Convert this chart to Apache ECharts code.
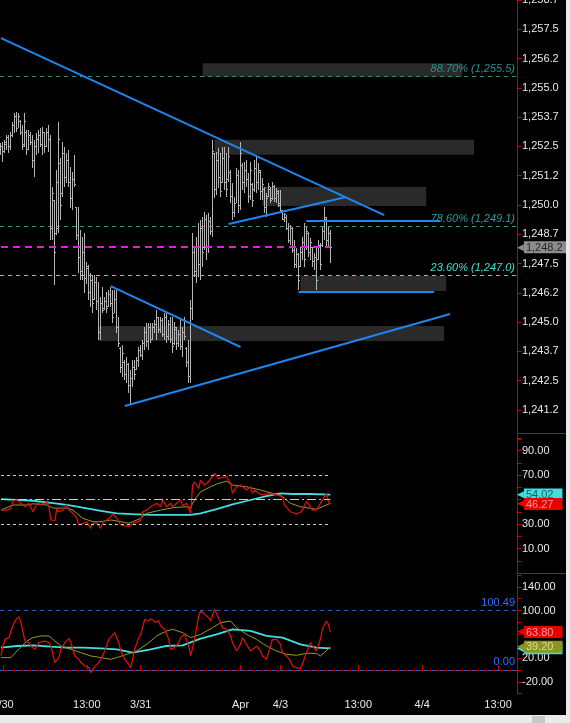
<!DOCTYPE html>
<html><head><meta charset="utf-8">
<script src="https://cdn.jsdelivr.net/npm/echarts/dist/echarts.min.js"></script>
<style>html,body{margin:0;padding:0;background:#000;overflow:hidden}#c{width:570px;height:723px}</style>
</head><body><div id="c"></div><script>
// ---------- data ----------
const slotCount = 259;
const xTickIndex = [1, 43, 70, 120, 140, 179, 211, 249];
const xTickText = ['3/30', '13:00', '3/31', 'Apr', '4/3', '13:00', '4/4', '13:00'];

const priceOpen = [1252.2,1252.5,1252.3,1252.6,1252.9,1252.5,1253.0,1253.4,1253.8,1253.3,1253.6,1253.1,1252.6,1253.1,1252.4,1253.0,1252.7,1251.9,1252.5,1252.8,1253.0,1252.6,1253.1,1252.5,1253.1,1252.8,1249.0,1250.2,1248.8,1249.0,1251.8,1250.5,1252.2,1251.2,1251.9,1251.0,1250.3,1251.1,1249.9,1248.7,1247.8,1247.2,1248.0,1246.9,1247.3,1246.3,1246.8,1246.0,1246.7,1245.9,1244.6,1245.8,1245.6,1245.9,1245.7,1246.2,1245.8,1245.4,1246.0,1244.8,1243.9,1243.1,1243.3,1242.8,1243.2,1242.3,1242.6,1243.1,1243.0,1243.4,1243.8,1243.6,1244.1,1244.6,1244.2,1244.8,1244.3,1244.8,1244.9,1245.2,1244.7,1245.1,1244.5,1245.2,1244.4,1244.9,1244.3,1244.1,1244.7,1244.1,1244.5,1244.0,1244.6,1243.9,1243.3,1242.7,1245.6,1248.0,1247.2,1248.2,1247.5,1249.0,1248.2,1249.4,1248.2,1249.3,1248.9,1252.2,1250.7,1251.9,1251.2,1251.0,1252.0,1251.0,1251.1,1251.4,1250.4,1249.7,1250.1,1251.3,1250.0,1251.7,1251.0,1251.5,1251.1,1250.4,1250.9,1250.7,1251.6,1251.0,1251.4,1250.6,1250.7,1249.9,1250.4,1250.7,1250.3,1250.8,1250.3,1250.5,1250.1,1249.7,1249.4,1249.5,1249.0,1248.5,1249.0,1248.1,1247.5,1247.9,1247.4,1248.0,1248.4,1248.2,1248.8,1248.0,1248.2,1247.6,1247.8,1247.7,1248.3,1248.3,1248.9,1249.4,1248.5,1248.8];
const priceHigh = [1252.65,1252.69,1252.78,1252.99,1252.99,1253.12,1253.54,1253.93,1253.97,1253.93,1253.63,1253.41,1253.93,1253.20,1253.20,1253.12,1252.99,1252.78,1253.07,1253.20,1253.29,1253.33,1253.12,1253.29,1253.41,1252.99,1250.77,1250.21,1251.49,1253.54,1252.01,1252.69,1252.48,1252.22,1252.35,1251.62,1251.41,1252.14,1249.92,1249.92,1248.93,1248.63,1248.81,1247.57,1247.44,1247.10,1247.01,1247.01,1246.93,1246.71,1246.07,1246.50,1246.07,1246.29,1246.37,1246.50,1246.37,1246.37,1246.37,1245.22,1243.94,1244.03,1243.39,1243.51,1243.26,1242.96,1243.39,1243.39,1243.51,1243.94,1244.03,1244.24,1244.79,1244.96,1244.96,1244.96,1244.96,1245.09,1245.52,1245.22,1245.22,1245.18,1245.39,1245.39,1245.09,1245.22,1245.22,1245.01,1244.79,1244.67,1245.09,1244.79,1245.22,1243.94,1244.24,1245.95,1248.81,1248.21,1248.63,1249.23,1249.36,1249.49,1249.70,1249.57,1249.66,1249.49,1252.78,1252.22,1252.26,1252.43,1252.22,1252.48,1252.48,1252.22,1252.48,1251.49,1250.94,1250.34,1251.58,1251.49,1252.69,1251.79,1251.84,1251.92,1251.37,1251.84,1250.94,1251.92,1252.14,1251.79,1251.49,1251.15,1250.77,1250.51,1250.94,1250.77,1250.98,1250.85,1250.73,1250.64,1250.64,1249.79,1249.66,1249.57,1249.23,1249.15,1249.06,1248.51,1248.17,1247.95,1248.21,1248.63,1249.23,1249.06,1248.85,1248.59,1248.21,1247.95,1248.21,1248.51,1248.38,1249.06,1249.92,1249.49,1249.06,1248.93];
const priceLow = [1252.14,1251.84,1252.22,1252.35,1252.22,1252.35,1252.90,1253.07,1253.12,1253.29,1252.99,1252.35,1252.48,1252.14,1252.35,1252.56,1251.58,1251.20,1252.14,1252.22,1252.48,1252.14,1252.22,1252.48,1252.26,1248.51,1248.51,1246.59,1248.72,1248.81,1249.36,1250.34,1250.77,1250.94,1250.77,1249.87,1249.79,1250.77,1248.51,1247.10,1246.80,1246.80,1246.24,1246.63,1245.95,1245.65,1245.39,1245.95,1245.52,1244.24,1244.24,1245.39,1245.52,1245.39,1245.65,1245.65,1244.96,1245.39,1244.54,1243.94,1242.83,1242.66,1242.53,1242.40,1241.98,1241.46,1242.23,1242.53,1242.96,1243.09,1243.51,1243.39,1243.81,1243.94,1243.81,1244.11,1244.24,1244.54,1244.24,1244.54,1244.54,1244.37,1244.24,1244.11,1244.24,1244.11,1243.68,1244.03,1243.81,1243.94,1243.81,1243.51,1244.24,1243.09,1242.40,1242.40,1245.09,1246.93,1246.67,1246.93,1246.80,1247.35,1248.08,1247.65,1247.95,1248.72,1248.63,1250.30,1250.43,1250.73,1250.34,1250.94,1250.64,1250.34,1250.98,1250.09,1249.36,1249.49,1250.09,1249.66,1249.79,1250.64,1250.51,1250.77,1250.09,1250.21,1249.92,1250.56,1250.51,1250.64,1250.21,1250.21,1249.66,1249.49,1250.34,1250.09,1250.21,1250.13,1250.09,1249.92,1249.70,1249.36,1249.28,1248.93,1248.38,1248.29,1247.95,1247.31,1247.31,1246.37,1247.35,1247.65,1247.35,1248.08,1247.78,1247.65,1247.35,1247.23,1246.37,1247.65,1247.23,1248.21,1248.51,1248.21,1248.21,1247.53];
const priceClose = [1252.5,1252.3,1252.7,1252.9,1252.5,1253.0,1253.4,1253.8,1253.3,1253.8,1253.1,1252.5,1253.6,1252.4,1253.0,1252.7,1251.9,1252.5,1252.8,1253.0,1252.6,1253.1,1252.5,1253.1,1252.8,1249.0,1250.5,1248.0,1251.0,1252.8,1250.0,1252.2,1251.2,1251.9,1251.0,1250.3,1251.1,1250.9,1248.7,1247.8,1247.2,1248.0,1246.9,1247.4,1246.3,1246.8,1245.8,1246.7,1245.9,1244.6,1245.8,1245.5,1245.9,1245.6,1246.2,1245.8,1245.2,1246.0,1244.8,1244.1,1243.1,1243.7,1242.8,1243.2,1242.3,1242.6,1243.1,1242.8,1243.4,1243.8,1243.6,1244.1,1244.6,1244.2,1244.8,1244.3,1244.8,1244.9,1245.2,1244.7,1245.1,1244.5,1245.2,1244.4,1244.9,1244.3,1244.0,1244.8,1244.1,1244.5,1244.0,1244.6,1244.4,1243.3,1242.7,1245.6,1248.0,1247.2,1248.2,1247.5,1249.0,1248.0,1249.4,1248.2,1249.3,1248.9,1252.3,1250.7,1251.9,1251.2,1250.6,1252.0,1251.0,1250.7,1252.1,1250.4,1249.7,1250.1,1251.3,1250.0,1252.2,1251.0,1251.5,1251.1,1250.4,1251.5,1250.2,1251.6,1251.0,1251.5,1250.6,1250.9,1249.9,1250.3,1250.8,1250.2,1250.8,1250.3,1250.6,1250.0,1249.8,1249.4,1249.6,1249.0,1248.5,1249.0,1248.1,1247.5,1247.9,1246.8,1248.0,1248.4,1247.7,1248.9,1248.0,1248.4,1247.6,1247.8,1246.8,1248.3,1247.5,1248.9,1249.5,1248.5,1248.8,1248.2];

const lastPrice = 1248.2;
const fibLevels = [1255.5, 1249.1, 1247.0];
const fibText = ['88.70% (1,255.5)', '78.60% (1,249.1)', '23.60% (1,247.0)'];

// trend lines: [startIndex, startPrice, endIndex, endPrice]
const trendLines = [
  [0, 1257.12, 192, 1249.57],
  [114, 1249.19, 173, 1250.34],
  [153, 1249.33, 220, 1249.33],
  [149, 1246.30, 217, 1246.30],
  [55, 1246.54, 120, 1243.94],
  [62, 1241.42, 225, 1245.35]
];
// zones: [startIndex, topPrice, endIndex, bottomPrice]
const zones = [
  [101, 1256.05, 231, 1255.47],
  [107, 1252.78, 237, 1252.14],
  [131, 1250.77, 213, 1249.96],
  [150, 1246.97, 223, 1246.33],
  [49, 1244.84, 222, 1244.20]
];

// RSI panel
const rsiFast = [[0,41.4],[3,41.4],[5,42.8],[6,49],[8,49.5],[9,48.2],[12,44.1],[14,47],[15,47.5],[16,40],[18,47],[20,46],[23,47.5],[24,44.1],[25,33.3],[27,32.7],[28,43],[29,40],[31,41.4],[33,45.6],[34,41.4],[36,38.7],[38,34.6],[39,29.2],[41,30.5],[43,31.5],[45,26.5],[46,30.6],[48,31],[50,26.5],[51,31.5],[53,33.3],[55,36],[56,38.2],[58,34.7],[60,29.2],[62,28.4],[64,28],[65,26.5],[66,30.6],[68,31.5],[70,33],[71,40],[73,41.4],[75,44.1],[76,42.8],[78,46.9],[80,44.1],[81,49.6],[83,44],[85,47],[86,44],[88,47],[90,49.6],[91,45],[93,47],[95,38.6],[96,61.8],[97,64.5],[99,59],[100,65.8],[102,61.8],[104,64.5],[105,63],[107,71.3],[109,67.3],[110,68.6],[113,68.6],[115,63.2],[116,55],[118,60.4],[120,61.8],[121,60.4],[123,57.7],[125,60.4],[126,55],[127,57.7],[129,55],[131,53.7],[135,55],[138,53.7],[141,52.3],[142,45.6],[145,40],[146,41.4],[148,38.2],[150,39.6],[151,41.4],[153,48.2],[155,44.1],[156,41.4],[158,41.4],[160,46.9],[161,48.2],[163,55],[164,48.5],[165,46.27]];
const rsiSignal = [[0,41.4],[6,45.5],[10,45.5],[13,45.5],[16,46.5],[23,45.5],[26,43],[33,43],[36,41.4],[41,34.6],[46,31.9],[50,31.9],[55,33.3],[60,31.9],[64,30.6],[66,31.9],[70,34.6],[73,38.7],[80,41.4],[86,43.3],[93,44.1],[95,43],[96,47],[98,52],[100,56.3],[105,60.4],[108,62.6],[113,65],[116,61.8],[123,60.4],[130,57.7],[135,55.5],[140,53.7],[145,46.9],[150,44.1],[155,42.8],[158,42],[161,44.1],[165,46.9]];
const rsiSlow = [[0,50.3],[16,49],[25,47.3],[33,45.6],[41,43.3],[50,40.8],[58,38.6],[66,38],[75,37.4],[83,37.4],[95,37.4],[100,38.7],[108,42.2],[116,46],[125,49.6],[133,52.8],[140,55],[146,54.5],[155,54.5],[165,54.02]];
const rsiLevels = [70, 50, 30];
const rsiLabelTicks = [90, 70, 30, 10];

// oscillator panel
const oscFast = [[0,23.6],[1,40.4],[2,51.6],[4,54.5],[5,65.7],[7,82.5],[9,89.8],[10,79.7],[12,48.8],[14,46],[15,40.4],[17,34.8],[19,46],[20,43.2],[22,48.8],[24,46],[25,40.4],[27,12.4],[29,20.8],[30,34.8],[32,46],[34,52.8],[35,46],[37,23.6],[39,18],[40,12.4],[42,6.7],[44,3.9],[45,-4.5],[47,5.6],[49,12.4],[50,18],[52,32],[54,51.6],[55,54.5],[57,62.9],[59,46],[60,32],[62,18],[64,9.5],[65,3.9],[67,34.8],[69,54.5],[70,60],[72,85.3],[74,82.5],[75,86.5],[77,80.8],[79,82.5],[80,74.1],[82,68.5],[84,51.6],[85,34.8],[87,37.6],[89,46],[90,54.5],[92,60],[94,40.4],[95,23.6],[97,51.6],[99,91],[100,99.4],[102,93.8],[104,88.1],[105,82.5],[107,102.2],[108,102.2],[110,79.7],[111,71.3],[113,68.5],[115,57.3],[116,46],[118,32],[120,43.2],[121,54.5],[123,43.2],[125,32],[126,34.8],[128,40.4],[130,32],[131,23.6],[133,18],[135,40.4],[136,51.6],[138,51.6],[140,43.2],[141,29.2],[143,23.6],[145,15.2],[146,6.7],[148,3.9],[150,2.2],[151,9.5],[153,29.2],[155,46],[156,40.4],[158,32],[160,51.6],[161,68.5],[163,82.5],[164,76.9],[165,63.8]];
const oscSignal = [[0,20.8],[5,20.8],[8,32],[13,48.8],[16,54.5],[20,57.3],[24,57.3],[26,51.6],[30,40.4],[35,34.8],[40,29.2],[45,23.6],[50,20.8],[55,18],[58,20.8],[63,26.4],[68,32],[73,43.2],[78,57.3],[83,65.7],[86,68.5],[91,62.9],[95,54.5],[100,60],[106,71.3],[110,79.7],[115,82.5],[118,71.3],[123,60],[128,51.6],[133,40.4],[138,32],[143,26.4],[148,24.7],[153,28],[158,28],[160,23.6],[162,29.2],[165,39.2]];
const oscSlow = [[0,37.6],[8,40.4],[16,41.5],[25,39.3],[33,37.6],[41,37.6],[50,36.5],[58,34.8],[66,29.2],[75,34.8],[83,40.4],[91,41.5],[100,52.8],[108,60],[116,68.5],[125,65.7],[133,57.3],[141,54.5],[150,43.2],[158,37.6],[165,36.5]];
const oscLevels = [100.49, 0];
const oscLevelText = ['100.49', '0.00'];
const oscLabelTicks = [140, 100, 20, -20];

// ---------- chart ----------
const RED = '#c80000';
const BAR = '#b4b4b4';
const FONT = 'Liberation Sans';
const categories = Array.from({length: slotCount}, (_, i) => String(i));
const lastIdx = priceClose.length - 1;
const ohlc = priceClose.map((c, i) => [i, priceOpen[i], priceHigh[i], priceLow[i], c]);
const fmtPrice = v => {
  const t = (Math.floor(v * 10 + 1e-6) / 10).toFixed(1);
  return t.replace(/^(\d)(\d{3})/, '$1,$2');
};
const tag = (v, text, bg, fg) => ({
  yAxis: v,
  lineStyle: {color: 'rgba(0,0,0,0)', width: 0},
  label: {
    show: true, position: 'end', distance: 0,
    formatter: '{a|\u25C0}{b|' + text + '}',
    rich: {
      a: {color: bg, fontSize: 9, lineHeight: 12, fontFamily: 'DejaVu Sans'},
      b: {backgroundColor: bg, color: fg, fontSize: 11, lineHeight: 12, padding: [1, 9, 0, 2], fontFamily: FONT}
    }
  }
});
const yAxisBase = (gi, min, max, interval, fmt) => ({
  type: 'value', gridIndex: gi, position: 'right', min, max, interval,
  axisLine: {show: true, lineStyle: {color: RED, width: 1}},
  axisTick: {show: true, length: 4, lineStyle: {color: RED}},
  splitLine: {show: false},
  axisLabel: {color: '#e8e8e8', fontSize: 11, fontFamily: FONT, margin: 5, formatter: fmt}
});
const xAxisBase = (gi, show) => ({
  type: 'category', gridIndex: gi, data: categories, boundaryGap: true, show,
  axisLine: {show: true, lineStyle: {color: RED}},
  axisTick: {show: true, inside: true, length: 5, alignWithLabel: true, lineStyle: {color: RED},
    interval: (i) => xTickIndex.indexOf(i) >= 0},
  axisLabel: {show: true, color: '#e8e8e8', fontSize: 11, fontFamily: FONT, margin: 6,
    interval: (i) => xTickIndex.indexOf(i) >= 0,
    formatter: (val, i) => { const k = xTickIndex.indexOf(i); return k >= 0 ? xTickText[k] : ''; }},
  splitLine: {show: false}
});

const fibColors = ['#2a8c8c', '#2a9494', '#46dcc4'];
const fibTextColors = ['#2e8e8e', '#2f9a9a', '#44e0d0'];

const option = {
  backgroundColor: '#000',
  animation: false,
  grid: [
    {left: 0, right: 53, top: 0, height: 439.3, containLabel: false, outerBoundsMode: 'none'},
    {left: 0, right: 53, top: 433, height: 140, containLabel: false, outerBoundsMode: 'none'},
    {left: 0, right: 53, top: 575, height: 118.7, containLabel: false, outerBoundsMode: 'none'}
  ],
  xAxis: [xAxisBase(0, false), xAxisBase(1, false), xAxisBase(2, true)],
  yAxis: [
    yAxisBase(0, 1240, 1258.75, 1.25, v => v < 1241 ? '' : fmtPrice(v)),
    yAxisBase(1, -10, 104.3, 10, v => rsiLabelTicks.indexOf(Math.round(v)) >= 0 ? v.toFixed(2) : ''),
    yAxisBase(2, -40, 160, 20, v => oscLabelTicks.indexOf(Math.round(v)) >= 0 ? v.toFixed(2) : '')
  ],
  series: [
    {
      name: 'zones', type: 'line', xAxisIndex: 0, yAxisIndex: 0, z: 1, silent: true, clip: false,
      data: priceClose, showSymbol: false, lineStyle: {color: 'rgba(0,0,0,0)', width: 0},
      markArea: {
        silent: true,
        itemStyle: {color: 'rgba(70,70,70,0.6)'},
        data: zones.map(z => [{coord: [z[0], z[1]]}, {coord: [z[2], z[3]]}])
      },
      markLine: {
        silent: true, symbol: ['none', 'none'], z: 1,
        data: fibLevels.map((lv, k) => ({
          yAxis: lv,
          lineStyle: {color: fibColors[k], type: [4, 4], width: 1},
          label: {show: true, position: 'insideEndTop', distance: 2, formatter: fibText[k],
            color: fibTextColors[k], fontStyle: 'italic', fontSize: 11, fontFamily: FONT}
        }))
      }
    },
    {
      name: 'price', type: 'custom', xAxisIndex: 0, yAxisIndex: 0, z: 3, silent: true,
      data: ohlc,
      encode: {x: 0, y: [1, 2, 3, 4]},
      renderItem: (params, api) => {
        const i = api.value(0);
        const pO = api.coord([i, api.value(1)]);
        const pH = api.coord([i, api.value(2)]);
        const pL = api.coord([i, api.value(3)]);
        const pC = api.coord([i, api.value(4)]);
        const x = Math.floor(pH[0]);
        const yh = Math.round(pH[1]), yl = Math.round(pL[1]);
        return {type: 'group', children: [
          {type: 'rect', shape: {x: x, y: yh, width: 1, height: Math.max(1, yl - yh)}, style: {fill: BAR}},
          {type: 'rect', shape: {x: x - 1, y: Math.round(pO[1]), width: 1, height: 1}, style: {fill: BAR}},
          {type: 'rect', shape: {x: x + 1, y: Math.round(pC[1]), width: 1, height: 1}, style: {fill: BAR}}
        ]};
      }
    },
    {
      name: 'annotations', type: 'line', xAxisIndex: 0, yAxisIndex: 0, z: 5, silent: true, clip: false,
      data: priceClose, showSymbol: false, lineStyle: {color: 'rgba(0,0,0,0)', width: 0},
      markLine: {
        silent: true, symbol: ['none', 'none'], z: 6,
        data: [
          ...trendLines.map(t => [
            {coord: [t[0], t[1]], lineStyle: {color: '#1f86f0', width: 2, type: 'solid'}, label: {show: false}},
            {coord: [t[2], t[3]]}
          ]),
          [{coord: [0, lastPrice], lineStyle: {color: '#e020e0', width: 2, type: [7, 5]}, label: {show: false}},
           {coord: [lastIdx, lastPrice]}],
          tag(lastPrice, fmtPrice(lastPrice), '#8c8c8c', '#262626')
        ]
      }
    },
    {
      name: 'rsiSlow', type: 'line', xAxisIndex: 1, yAxisIndex: 1, data: rsiSlow, showSymbol: false, silent: true, clip: false,
      lineStyle: {color: '#40e0e0', width: 1.8}, z: 2,
      markLine: {silent: true, symbol: ['none', 'none'],
        data: [
          ...rsiLevels.map(lv => [
            {coord: [0, lv], lineStyle: {color: lv === 50 ? '#d8c8c0' : '#cfcfcf', width: 1, type: lv === 50 ? [9, 3, 2, 3] : [3, 3]}, label: {show: false}},
            {coord: [lastIdx, lv]}
          ]),
          tag(rsiSlow[rsiSlow.length - 1][1], '54.02', '#3ee0e0', '#1f5c5c')
        ]}
    },
    {
      name: 'rsiSignal', type: 'line', xAxisIndex: 1, yAxisIndex: 1, data: rsiSignal, showSymbol: false, silent: true,
      lineStyle: {color: '#9a9a22', width: 1}, z: 3
    },
    {
      name: 'rsiFast', type: 'line', xAxisIndex: 1, yAxisIndex: 1, data: rsiFast, showSymbol: false, silent: true, clip: false,
      lineStyle: {color: '#d81010', width: 1.3}, z: 4,
      markLine: {silent: true, symbol: ['none', 'none'], z: 8,
        data: [tag(rsiFast[rsiFast.length - 1][1], '46.27', '#e80000', '#ff9c9c')]}
    },
    {
      name: 'oscSlow', type: 'line', xAxisIndex: 2, yAxisIndex: 2, data: oscSlow, showSymbol: false, silent: true, clip: false,
      lineStyle: {color: '#40e0e0', width: 1.8}, z: 2,
      markLine: {silent: true, symbol: ['none', 'none'],
        data: [
          ...oscLevels.map((lv, k) => ({
            yAxis: lv, lineStyle: {color: '#2c5cd0', width: 1, type: [4, 4]},
            label: {show: true, position: 'insideEndTop', distance: 2, formatter: oscLevelText[k], color: '#2f6cff', fontSize: 11, fontFamily: FONT}
          })),
          tag(oscSlow[oscSlow.length - 1][1], '36.50', '#3ee0e0', '#1f5c5c')
        ]}
    },
    {
      name: 'oscSignal', type: 'line', xAxisIndex: 2, yAxisIndex: 2, data: oscSignal, showSymbol: false, silent: true, clip: false,
      lineStyle: {color: '#9a9a22', width: 1}, z: 3,
      markLine: {silent: true, symbol: ['none', 'none'], z: 7,
        data: [tag(oscSignal[oscSignal.length - 1][1], '39.20', '#8e9422', '#d8dc90')]}
    },
    {
      name: 'oscFast', type: 'line', xAxisIndex: 2, yAxisIndex: 2, data: oscFast, showSymbol: false, silent: true, clip: false,
      lineStyle: {color: '#d81010', width: 1.3}, z: 4,
      markLine: {silent: true, symbol: ['none', 'none'], z: 8,
        data: [tag(oscFast[oscFast.length - 1][1], '63.80', '#e80000', '#ff9c9c')]}
    }
  ],
  graphic: [
    {type: 'line', shape: {x1: 517, y1: 433.5, x2: 566, y2: 433.5}, style: {stroke: RED, lineWidth: 1}, z: 100},
    {type: 'line', shape: {x1: 517, y1: 573.5, x2: 566, y2: 573.5}, style: {stroke: RED, lineWidth: 1}, z: 100},
    {type: 'line', shape: {x1: 517.5, y1: 573, x2: 517.5, y2: 576}, style: {stroke: RED, lineWidth: 1}, z: 100},
    {type: 'rect', shape: {x: 566, y: 0, width: 4, height: 723}, style: {fill: '#e6e9ee'}, z: 100},
    {type: 'rect', shape: {x: 0, y: 715, width: 570, height: 8}, style: {fill: '#ebebeb'}, z: 100},
    {type: 'rect', shape: {x: 532, y: 716, width: 13, height: 7}, style: {fill: '#c8c8c8'}, z: 101}
  ]
};
const chart = echarts.init(document.getElementById('c'), null, {renderer: 'canvas'});
chart.setOption(option);
</script></body></html>
